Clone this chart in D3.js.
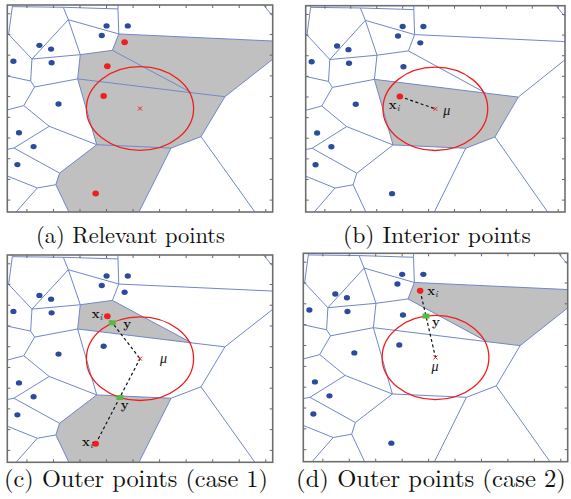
<!DOCTYPE html>
<html>
<head>
<meta charset="utf-8">
<script src="https://cdn.jsdelivr.net/npm/d3@7"></script>
<style>
  body { margin: 0; background: #fff; }
  svg { display: block; }
</style>
</head>
<body>
<div id="chart"></div>
<script>
// axis units: every panel frame spans 0..10 across and 0..10 down (y measured from top)
const seedX = [3.74, 4.54, 3.56, 4.42, 1.21, 1.65, 0.23, 1.67, 3.77, 1.93, 3.63, 0.44, 0.99, 0.38, 3.33];
const seedY = [1.01, 1.01, 1.47, 1.80, 1.95, 2.13, 2.72, 2.79, 2.96, 4.78, 4.40, 6.17, 6.84, 7.71, 9.11];
const mu = [5.0, 5.0];
const radius = 2.02;

// voronoi vertices, plus the points where edges leave the frame
const vertices = {
  V1: [0.19, 0.08], V2: [2.11, 0.11], V3: [4.17, 0.19], V4: [0.05, 1.42],
  V5: [2.30, 0.71], V6: [4.20, 1.40], V7: [0.93, 2.61], V8: [2.75, 2.40],
  V9: [3.96, 2.19], V10: [0.88, 3.67], V11: [1.03, 3.96], V12: [2.65, 3.57],
  V13: [0.62, 4.86], V14: [6.95, 4.24], V15: [3.37, 6.75], V16: [8.20, 4.43],
  V17: [7.30, 6.36], V18: [6.17, 6.91], V19: [1.58, 5.86], V20: [1.97, 8.12],
  V21: [0.25, 6.91], V22: [1.83, 8.68], V23: [1.13, 8.84],
  T1: [0.18, 0], T2: [4.17, 0], T3: [9.65, 0],
  L1: [0, 1.42], L2: [0, 3.43], L3: [0, 5.07], L4: [0, 6.97], L5: [0, 8.26],
  R1: [10, 1.74], R2: [10, 2.62], R3: [10, 0.53],
  B1: [9.33, 10], B2: [4.96, 10], B3: [2.32, 10], B4: [0.33, 10]
};

const edges = [
  ['V1','T1'], ['V1','V2'], ['V1','V4'], ['V4','L1'], ['V4','V7'], ['V2','V3'], ['V3','T2'],
  ['V2','V5'], ['V3','V6'], ['V5','V6'], ['V5','V7'], ['V5','V8'], ['V7','V8'], ['V6','R1'],
  ['V6','V9'], ['V8','V9'], ['V7','V10'], ['V10','L2'], ['V10','V11'], ['V11','V12'], ['V8','V12'],
  ['V9','V14'], ['V12','V14'], ['V14','V16'], ['V16','R2'], ['V16','V17'], ['V17','B1'],
  ['V17','V18'], ['V18','B2'], ['V18','V15'], ['V12','V15'], ['V11','V13'], ['V13','L3'],
  ['V13','V19'], ['V19','V15'], ['V19','V21'], ['V21','L4'], ['V21','V20'], ['V20','V15'],
  ['V20','V22'], ['V22','B3'], ['V22','V23'], ['V23','L5'], ['V23','B4'], ['T3','R3']
];

// cells that get shaded (keyed by seed index)
const cells = {
  3:  ['V6', 'R1', 'R2', 'V16', 'V14', 'V9'],
  8:  ['V8', 'V9', 'V14', 'V12'],
  10: ['V12', 'V14', 'V16', 'V17', 'V18', 'V15'],
  14: ['V15', 'V18', 'B2', 'B3', 'V22', 'V20']
};

const xTicks = [0.72, 1.72, 2.72, 3.72, 4.72, 5.72, 6.72, 7.72, 8.72, 9.72];
const yTicks = [0.40, 1.40, 2.40, 3.40, 4.40, 5.40, 6.40, 7.40, 8.40, 9.40];

const captions = ['(a) Relevant points', '(b) Interior points', '(c) Outer points (case 1)', '(d) Outer points (case 2)'];

// per panel: which seeds are red/shaded, which get a dashed link to mu
const redSeeds = [[3, 8, 10, 14], [10], [8, 14], [3]];
const linkSeeds = [[], [10], [8, 14], [3]];
const showY = [false, false, true, true];

// layout
const W = 571, H = 499;
const frames = [
  { l: 7.3, t: 5, r: 272.7, b: 212 },
  { l: 305.7, t: 5.7, r: 565, b: 212 },
  { l: 7.3, t: 255, r: 272.7, b: 462.3 },
  { l: 303.3, t: 253.3, r: 567.7, b: 461.7 }
];
const capPos = [
  { cx: 130.5, w: 189, y: 243 },
  { cx: 437, w: 188, y: 243 },
  { cx: 136, w: 264, y: 487 },
  { cx: 431, w: 270, y: 487 }
];
// label offsets in px: [panel] -> list
const labels = [
  [],
  [{ k: 'x', seed: 10, dx: -11, dy: 13, anchor: 'start' }, { k: 'mu', dx: 8, dy: 6, anchor: 'start' }],
  [{ k: 'x', seed: 8, dx: -5, dy: 2, anchor: 'end' }, { k: 'y', seed: 8, dx: 11, dy: 5, anchor: 'start' },
   { k: 'x', seed: 14, dx: -3, dy: 2, anchor: 'end' }, { k: 'y', seed: 14, dx: 1, dy: 12, anchor: 'start' },
   { k: 'mu', dx: 20, dy: 4, anchor: 'start' }],
  [{ k: 'x', seed: 3, dx: 7, dy: 4, anchor: 'start' }, { k: 'y', seed: 3, dx: 6, dy: 10, anchor: 'start' },
   { k: 'mu', dx: -4, dy: 13, anchor: 'start' }]
];

const lineColor = '#7087c9';
const blue = '#2c4b9c';
const red = '#f01e1e';
const green = '#58b848';
const serif = '"Latin Modern Roman", "CMU Serif", "Liberation Serif", "DejaVu Serif", serif';

const svg = d3.select('#chart').append('svg').attr('width', W).attr('height', H);

// point on the circle along mu -> seed
function onCircle(i) {
  const dx = seedX[i] - mu[0], dy = seedY[i] - mu[1];
  const len = Math.hypot(dx, dy);
  return [mu[0] + dx / len * radius, mu[1] + dy / len * radius];
}

frames.forEach((f, p) => {
  const x = d3.scaleLinear().domain([0, 10]).range([f.l, f.r]);
  const y = d3.scaleLinear().domain([0, 10]).range([f.t, f.b]);
  const g = svg.append('g');

  g.append('clipPath').attr('id', 'clip' + p)
    .append('rect').attr('x', f.l).attr('y', f.t).attr('width', f.r - f.l).attr('height', f.b - f.t);
  const inner = g.append('g').attr('clip-path', `url(#clip${p})`);

  // shaded cells
  const line = d3.line().x(d => x(vertices[d][0])).y(d => y(vertices[d][1]));
  inner.selectAll('path.cell')
    .data(redSeeds[p])
    .join('path')
    .attr('class', 'cell')
    .attr('d', s => line(cells[s]) + 'Z')
    .attr('fill', '#c0c0c0');

  // voronoi edges
  inner.selectAll('line.edge')
    .data(edges)
    .join('line')
    .attr('class', 'edge')
    .attr('x1', d => x(vertices[d[0]][0])).attr('y1', d => y(vertices[d[0]][1]))
    .attr('x2', d => x(vertices[d[1]][0])).attr('y2', d => y(vertices[d[1]][1]))
    .attr('stroke', lineColor).attr('stroke-width', 1);

  // circle around mu
  inner.append('ellipse')
    .attr('cx', x(mu[0])).attr('cy', y(mu[1]))
    .attr('rx', x(radius) - x(0)).attr('ry', y(radius) - y(0))
    .attr('fill', 'none').attr('stroke', red).attr('stroke-width', 1.3);

  // dashed links
  inner.selectAll('line.link')
    .data(linkSeeds[p])
    .join('line')
    .attr('class', 'link')
    .attr('x1', i => x(seedX[i])).attr('y1', i => y(seedY[i]))
    .attr('x2', x(mu[0])).attr('y2', y(mu[1]))
    .attr('stroke', '#111').attr('stroke-width', 1.2).attr('stroke-dasharray', '3,2.5');

  // seeds
  const idx = d3.range(seedX.length);
  inner.selectAll('ellipse.seed')
    .data(idx)
    .join('ellipse')
    .attr('class', 'seed')
    .attr('cx', i => x(seedX[i])).attr('cy', i => y(seedY[i]))
    .attr('rx', i => redSeeds[p].includes(i) ? 3.3 : 3.1)
    .attr('ry', i => redSeeds[p].includes(i) ? 3.0 : 2.7)
    .attr('fill', i => redSeeds[p].includes(i) ? red : blue);

  // mu marker
  const mx = x(mu[0]), my = y(mu[1]);
  inner.append('path')
    .attr('d', `M${mx - 2},${my - 2}L${mx + 2},${my + 2}M${mx - 2},${my + 2}L${mx + 2},${my - 2}`)
    .attr('stroke', red).attr('stroke-width', 1);

  // projection points y
  if (showY[p]) {
    inner.selectAll('rect.proj')
      .data(linkSeeds[p])
      .join('rect')
      .attr('class', 'proj')
      .attr('x', i => x(onCircle(i)[0]) - 3.5).attr('y', i => y(onCircle(i)[1]) - 2.5)
      .attr('width', 7).attr('height', 5)
      .attr('fill', green);
  }

  // labels
  labels[p].forEach(lb => {
    let px, py;
    if (lb.k === 'mu') { px = x(mu[0]); py = y(mu[1]); }
    else if (lb.k === 'x') { px = x(seedX[lb.seed]); py = y(seedY[lb.seed]); }
    else { const c = onCircle(lb.seed); px = x(c[0]); py = y(c[1]); }
    const t = g.append('text')
      .attr('x', px + lb.dx).attr('y', py + lb.dy)
      .attr('text-anchor', lb.anchor)
      .attr('font-family', serif).attr('font-size', 13).attr('fill', '#111');
    if (lb.k === 'mu') t.attr('font-style', 'italic').attr('font-size', 14).text('μ');
    else if (lb.k === 'y') t.attr('font-weight', 'bold').text('y');
    else {
      t.append('tspan').attr('font-weight', 'bold').text('x');
      t.append('tspan').attr('font-style', 'italic').attr('font-size', 9).attr('dy', 2).text('i');
    }
  });

  // ticks on all four sides, pointing inward
  const tick = sel => sel.call(s => s.select('.domain').remove())
    .call(s => s.selectAll('line').attr('stroke', '#666'));
  g.append('g').attr('transform', `translate(0,${f.b})`)
    .call(d3.axisTop(x).tickValues(xTicks).tickSize(3).tickFormat('')).call(tick);
  g.append('g').attr('transform', `translate(0,${f.t})`)
    .call(d3.axisBottom(x).tickValues(xTicks).tickSize(3).tickFormat('')).call(tick);
  g.append('g').attr('transform', `translate(${f.l},0)`)
    .call(d3.axisRight(y).tickValues(yTicks).tickSize(3).tickFormat('')).call(tick);
  g.append('g').attr('transform', `translate(${f.r},0)`)
    .call(d3.axisLeft(y).tickValues(yTicks).tickSize(3).tickFormat('')).call(tick);

  // frame
  g.append('rect')
    .attr('x', f.l).attr('y', f.t).attr('width', f.r - f.l).attr('height', f.b - f.t)
    .attr('fill', 'none').attr('stroke', '#6e6e6e').attr('stroke-width', 1.6);

  // caption, sized to its measured width
  const cp = capPos[p];
  const cap = svg.append('text')
    .attr('x', cp.cx).attr('y', cp.y)
    .attr('text-anchor', 'middle')
    .attr('font-family', serif).attr('font-size', 20).attr('fill', '#111')
    .text(captions[p]);
  const len = cap.node().getComputedTextLength();
  cap.attr('font-size', 20 * cp.w / len);
});
</script>
</body>
</html>
